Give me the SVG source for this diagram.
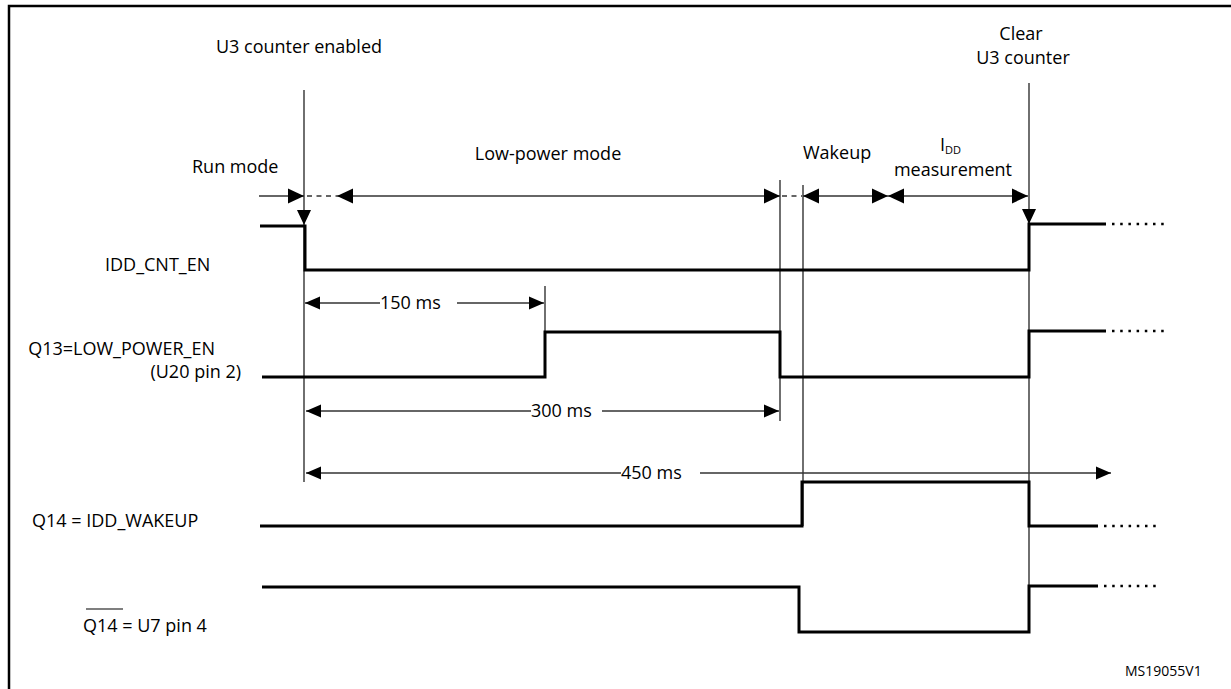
<svg xmlns="http://www.w3.org/2000/svg" width="1231" height="689" viewBox="0 0 1231 689">
<style>
text{font-family:"Open Sans","Liberation Sans",sans-serif;font-size:18px;fill:#000}
.small{font-size:14px}
.sub{font-size:11px}
.mid{text-anchor:middle}
.end{text-anchor:end}
.border{fill:none;stroke:#000;stroke-width:2.5}
.tl{fill:none;stroke:#222;stroke-width:1.3}
.dim{fill:none;stroke:#333;stroke-width:1.5}
.dash{fill:none;stroke:#333;stroke-width:1.5;stroke-dasharray:5 4.5}
.sig{fill:none;stroke:#000;stroke-width:3;stroke-linejoin:miter}
.dots{fill:none;stroke:#000;stroke-width:2.5;stroke-dasharray:2.5 5.7}
.head{fill:#000}
</style>
<defs>
<marker id="ah" markerUnits="userSpaceOnUse" markerWidth="16" markerHeight="16" viewBox="0 0 15 14" refX="15" refY="7" orient="auto-start-reverse"><path d="M0,0 L15,7 L0,14 z" fill="#000"/></marker>
<marker id="ahs" markerUnits="userSpaceOnUse" markerWidth="15" markerHeight="14" viewBox="0 0 14 12" refX="14" refY="6" orient="auto-start-reverse"><path d="M0,0 L14,6 L0,12 z" fill="#000"/></marker>
</defs>
<g id="frame">
<path class="border" d="M9,689 V6 H1231"/>
</g>
<g id="labels">
<text x="299" y="53" class="mid">U3 counter enabled</text>
<text x="1021" y="40" class="mid">Clear</text>
<text x="1023" y="64" class="mid">U3 counter</text>
<text x="192" y="173">Run mode</text>
<text x="548" y="160" class="mid">Low-power mode</text>
<text x="803" y="159">Wakeup</text>
<text x="940" y="151">I<tspan class="sub" dy="3">DD</tspan></text>
<text x="953" y="176" class="mid">measurement</text>
<text x="1125" y="676" class="small">MS19055V1</text>
</g>
<g id="timelines">
<line class="tl" x1="304" y1="90" x2="304" y2="482"/>
<line class="tl" x1="545" y1="286" x2="545" y2="332"/>
<line class="tl" x1="780" y1="180" x2="780" y2="421"/>
<line class="tl" x1="803" y1="185" x2="803" y2="526"/>
<line class="tl" x1="1029" y1="83" x2="1029" y2="632"/>
</g>
<g id="connectors">
<line class="dim" x1="259" y1="196" x2="304" y2="196" marker-end="url(#ah)"/>
<line class="dash" x1="307" y1="196" x2="337" y2="196"/>
<line class="dim" x1="337" y1="196" x2="780" y2="196" marker-start="url(#ah)" marker-end="url(#ah)"/>
<line class="dash" x1="782" y1="196" x2="802" y2="196"/>
<line class="dim" x1="803" y1="196" x2="888" y2="196" marker-start="url(#ah)" marker-end="url(#ah)"/>
<line class="dim" x1="888" y1="196" x2="1028" y2="196" marker-start="url(#ah)" marker-end="url(#ah)"/>
<path class="head" d="M297,210 L311,210 L304,225 z"/>
<path class="head" d="M1022,209 L1036,209 L1029,224 z"/>
<line class="dim" x1="305" y1="303" x2="380" y2="303" marker-start="url(#ahs)"/>
<line class="dim" x1="457" y1="303" x2="544" y2="303" marker-end="url(#ahs)"/>
<text x="380" y="309">150 ms</text>
<line class="dim" x1="306" y1="411" x2="531" y2="411" marker-start="url(#ahs)"/>
<line class="dim" x1="602" y1="411" x2="779" y2="411" marker-end="url(#ahs)"/>
<text x="531" y="417">300 ms</text>
<line class="dim" x1="306" y1="473" x2="621" y2="473" marker-start="url(#ahs)"/>
<line class="dim" x1="700" y1="473" x2="1111" y2="473" marker-end="url(#ahs)"/>
<text x="621" y="479">450 ms</text>
</g>
<g id="sig-idd-cnt-en">
<text x="105" y="271">IDD_CNT_EN</text>
<path class="sig" d="M260,226 H305 V270 H1029 V224 H1106"/>
<line class="dots" x1="1112" y1="224" x2="1166" y2="224"/>
</g>
<g id="sig-q13">
<text x="215" y="355" class="end">Q13=LOW_POWER_EN</text>
<text x="241" y="378" class="end">(U20 pin 2)</text>
<path class="sig" d="M262,377 H545 V332 H780 V377 H1029 V331 H1106"/>
<line class="dots" x1="1112" y1="331" x2="1166" y2="331"/>
</g>
<g id="sig-q14">
<text x="32" y="527">Q14 = IDD_WAKEUP</text>
<path class="sig" d="M260,526 H802 V482 H1029 V526 H1098"/>
<line class="dots" x1="1104" y1="526" x2="1158" y2="526"/>
</g>
<g id="sig-q14n">
<text x="83" y="632">Q14 = U7 pin 4</text>
<line x1="86" y1="609" x2="123" y2="609" stroke="#000" stroke-width="1.2"/>
<path class="sig" d="M262,587 H799 V632 H1029 V586 H1098"/>
<line class="dots" x1="1104" y1="586" x2="1158" y2="586"/>
</g>
</svg>
